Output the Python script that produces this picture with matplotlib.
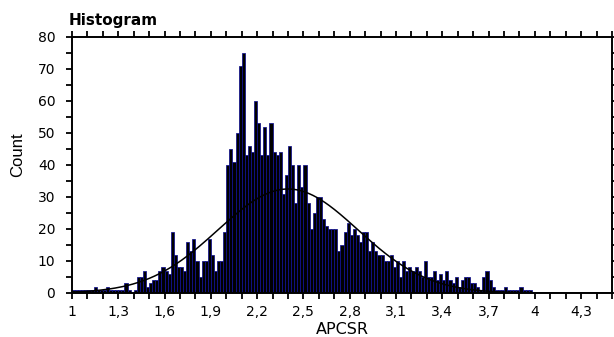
import numpy as np
import matplotlib
matplotlib.use("Agg")
import matplotlib.pyplot as plt
from matplotlib.ticker import MultipleLocator, FixedLocator
from matplotlib import font_manager

# ---- data ----
bin_start = 1.0
bin_width = 0.02
counts = [
    1, 1, 1, 1, 1, 1, 1, 2, 1, 1,
    1, 2, 1, 1, 1, 1, 1, 3, 1, 0,
    1, 5, 5, 7, 2, 3, 4, 4, 7, 8,
    7, 6, 19, 12, 8, 8, 7, 16, 13, 17,
    10, 5, 10, 10, 17, 12, 7, 10, 10, 19,
    40, 45, 41, 50, 71, 75, 43, 46, 44, 60,
    53, 43, 52, 43, 53, 44, 43, 44, 31, 37,
    46, 40, 28, 40, 33, 40, 28, 20, 25, 30,
    30, 23, 21, 20, 20, 20, 13, 15, 19, 22,
    18, 20, 18, 16, 19, 19, 13, 16, 13, 12,
    12, 10, 10, 12, 8, 10, 5, 10, 7, 8,
    7, 8, 7, 5, 10, 5, 5, 7, 4, 6,
    4, 7, 4, 3, 5, 2, 4, 5, 5, 3,
    3, 2, 1, 5, 7, 4, 2, 1, 1, 1,
    2, 1, 1, 1, 1, 2, 1, 1, 1, 0,
]
# fitted normal curve parameters
fit_mean = 2.40
fit_sd = 0.454
fit_peak = 32.5

x_tick_values = [1.0, 1.3, 1.6, 1.9, 2.2, 2.5, 2.8, 3.1, 3.4, 3.7, 4.0, 4.3]
x_tick_labels = ["1", "1,3", "1,6", "1,9", "2,2", "2,5", "2,8", "3,1", "3,4", "3,7", "4", "4,3"]
y_tick_values = [0, 10, 20, 30, 40, 50, 60, 70, 80]

title_text = "Histogram"
x_label = "APCSR"
y_label = "Count"

# ---- drawing ----
plt.rcParams['font.family'] = ['DejaVu Sans']
available = {f.name for f in font_manager.fontManager.ttflist}
narrow = [n for n in ['Liberation Sans Narrow', 'DejaVu Sans Condensed'] if n in available]
count_family = narrow + ['Liberation Sans']

fig = plt.figure(figsize=(6.14, 3.37), dpi=100)
ax = fig.add_axes([72 / 614, 44 / 337, 540 / 614, 256 / 337])

lefts = bin_start + bin_width * np.arange(len(counts))
ax.bar(lefts, counts, width=bin_width, align='edge',
       facecolor='#000000', edgecolor='#10108f', linewidth=0.55, zorder=2)

xs = np.linspace(1.0, 4.5, 400)
ys = fit_peak * np.exp(-0.5 * ((xs - fit_mean) / fit_sd) ** 2)
ax.plot(xs, ys, color='black', linewidth=1.1, zorder=3)

ax.set_xlim(1.0, 4.5)
ax.set_ylim(0, 80)

ax.xaxis.set_major_locator(FixedLocator(x_tick_values))
ax.set_xticklabels(x_tick_labels)
ax.xaxis.set_minor_locator(MultipleLocator(0.1))
ax.set_yticks(y_tick_values)
ax.yaxis.set_minor_locator(MultipleLocator(5))

ax.tick_params(which='both', direction='out', top=True, right=True,
               length=4, width=1.3, color='black', labelsize=10)
ax.tick_params(which='minor', length=4)
ax.tick_params(axis='x', pad=5)
ax.tick_params(axis='y', pad=8)
for s in ax.spines.values():
    s.set_linewidth(1.4)

ax.set_xlabel(x_label, fontsize=11.5, labelpad=2)
if narrow:
    ax.set_ylabel(y_label, fontsize=12, family=count_family)
else:
    ax.set_ylabel(y_label, fontsize=12, family=['Liberation Sans'], fontstretch='condensed')
ax.yaxis.set_label_coords(-0.087, 0.54)
fig.text(69 / 614, 1 - 25 / 337, title_text, fontsize=11, fontweight='bold',
         ha='left', va='baseline')

fig.savefig("out.png", dpi=100)
